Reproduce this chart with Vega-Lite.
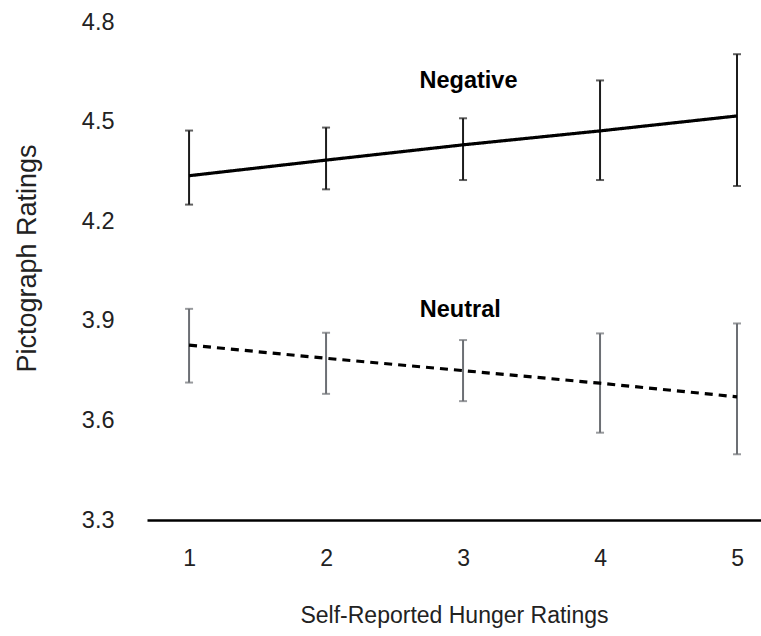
{
  "$schema": "https://vega.github.io/schema/vega-lite/v6.json",
  "autosize": {"type": "none"},
  "width": 614,
  "height": 498,
  "padding": {"left": 147, "top": 22, "right": 0, "bottom": 116},
  "background": "white",
  "config": {
    "view": {"stroke": null},
    "font": "Liberation Sans",
    "axis": {"grid": false}
  },
  "datasets": {
    "stats": [
      {"condition": "Negative", "hunger": 1, "mean": 4.337, "lo": 4.25, "hi": 4.473},
      {"condition": "Negative", "hunger": 2, "mean": 4.384, "lo": 4.296, "hi": 4.482},
      {"condition": "Negative", "hunger": 3, "mean": 4.43, "lo": 4.324, "hi": 4.51},
      {"condition": "Negative", "hunger": 4, "mean": 4.472, "lo": 4.324, "hi": 4.624},
      {"condition": "Negative", "hunger": 5, "mean": 4.517, "lo": 4.306, "hi": 4.703},
      {"condition": "Neutral", "hunger": 1, "mean": 3.827, "lo": 3.714, "hi": 3.936},
      {"condition": "Neutral", "hunger": 2, "mean": 3.787, "lo": 3.68, "hi": 3.864},
      {"condition": "Neutral", "hunger": 3, "mean": 3.75, "lo": 3.658, "hi": 3.842},
      {"condition": "Neutral", "hunger": 4, "mean": 3.712, "lo": 3.563, "hi": 3.862},
      {"condition": "Neutral", "hunger": 5, "mean": 3.671, "lo": 3.498, "hi": 3.892}
    ],
    "labels": [
      {"label": "Negative", "hunger": 3.04, "rating": 4.623},
      {"label": "Neutral", "hunger": 2.98, "rating": 3.933}
    ]
  },
  "layer": [
    {
      "data": {"name": "stats"},
      "mark": {"type": "rule", "strokeWidth": 2},
      "encoding": {
        "x": {
          "field": "hunger", "type": "quantitative",
          "scale": {"domain": [0.693, 5.175], "nice": false, "zero": false},
          "axis": {
            "title": "Self-Reported Hunger Ratings",
            "values": [1, 2, 3, 4, 5], "format": "d",
            "domain": true, "domainColor": "#000000", "domainWidth": 2.5,
            "ticks": false,
            "labelFontSize": 23, "labelColor": "#222222", "labelPadding": 27,
            "titleFontSize": 23, "titleFontWeight": "normal", "titleColor": "#222222", "titlePadding": 34
          }
        },
        "y": {
          "field": "lo", "type": "quantitative",
          "scale": {"domain": [3.3, 4.8], "nice": false, "zero": false},
          "axis": {
            "title": "Pictograph Ratings",
            "values": [3.3, 3.6, 3.9, 4.2, 4.5, 4.8], "format": ".1f",
            "domain": false, "ticks": false,
            "labelFontSize": 23.5, "labelColor": "#222222", "labelPadding": 33,
            "titleFontSize": 27, "titleFontWeight": "normal", "titleColor": "#222222", "titlePadding": 40,
            "titleY": 236
          }
        },
        "y2": {"field": "hi"},
        "color": {
          "field": "condition", "type": "nominal",
          "scale": {"domain": ["Negative", "Neutral"], "range": ["#1c1c1c", "#6c6f74"]},
          "legend": null
        }
      }
    },
    {
      "data": {"name": "stats"},
      "mark": {"type": "tick", "orient": "horizontal", "size": 8, "thickness": 2},
      "encoding": {
        "x": {"field": "hunger", "type": "quantitative"},
        "y": {"field": "lo", "type": "quantitative", "title": "Pictograph Ratings"},
        "color": {"field": "condition", "type": "nominal", "legend": null}
      }
    },
    {
      "data": {"name": "stats"},
      "mark": {"type": "tick", "orient": "horizontal", "size": 8, "thickness": 2},
      "encoding": {
        "x": {"field": "hunger", "type": "quantitative"},
        "y": {"field": "hi", "type": "quantitative", "title": "Pictograph Ratings"},
        "color": {"field": "condition", "type": "nominal", "legend": null}
      }
    },
    {
      "data": {"name": "stats"},
      "mark": {"type": "line", "strokeWidth": 3.2, "color": "#000000"},
      "encoding": {
        "x": {"field": "hunger", "type": "quantitative"},
        "y": {"field": "mean", "type": "quantitative", "title": "Pictograph Ratings"},
        "detail": {"field": "condition", "type": "nominal"},
        "strokeDash": {
          "field": "condition", "type": "nominal",
          "scale": {"domain": ["Negative", "Neutral"], "range": [[1, 0], [8, 6]]},
          "legend": null
        }
      }
    },
    {
      "data": {"name": "labels"},
      "mark": {"type": "text", "fontSize": 23.5, "fontWeight": "bold", "color": "#000000", "baseline": "middle", "align": "center"},
      "encoding": {
        "x": {"field": "hunger", "type": "quantitative"},
        "y": {"field": "rating", "type": "quantitative", "title": "Pictograph Ratings"},
        "text": {"field": "label", "type": "nominal"}
      }
    }
  ]
}
